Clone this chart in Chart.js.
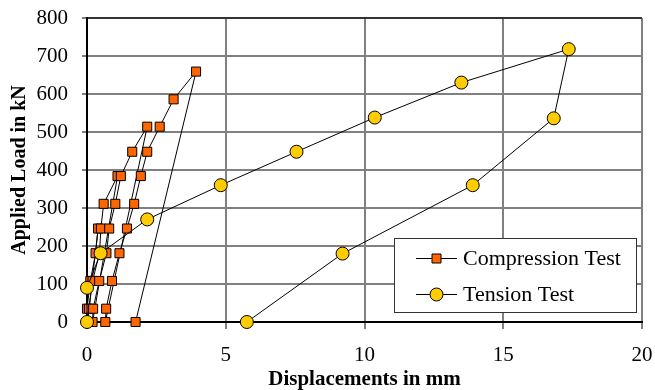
<!DOCTYPE html>
<html>
<head>
<meta charset="utf-8">
<title>Applied Load vs Displacement</title>
<script src="https://cdn.jsdelivr.net/npm/chart.js@4.4.1/dist/chart.umd.min.js"></script>
<style>
    html, body { margin: 0; padding: 0; background: #fff; }
    #loadChart { display: block; }
</style>
</head>
<body>
<canvas id="loadChart" width="655" height="390"></canvas>
<script>
// Compression test: four load cycles, each unloading straight to the residual displacement
const compressionDisp = [0, 0, 0.12, 0.31, 0.40,
    0.02, 0.07, 0.20, 0.45, 0.50, 0.60, 1.10,
    0.20, 0.22, 0.44, 0.70, 0.80, 1.02, 1.22, 1.63, 2.17,
    0.66, 0.69, 0.90, 1.17, 1.44, 1.70, 1.94, 2.17, 2.62, 3.12, 3.93, 1.75];
const compressionLoad = [0, 35, 108, 181, 246,
    0, 35, 108, 181, 246, 311, 384,
    0, 35, 108, 181, 246, 311, 384, 448, 514,
    0, 35, 108, 181, 246, 311, 384, 448, 514, 586, 659, 0];

// Tension test: loading then unloading
const tensionDisp = [0, 0, 0.49, 2.17, 4.82, 7.55, 10.37, 13.49, 17.36, 16.82, 13.9, 9.21, 5.76];
const tensionLoad = [0, 90, 181, 270, 360, 448, 538, 630, 718, 536, 360, 180, 0];

const seriesNames = ['Compression Test', 'Tension Test'];
const xTicks = [0, 5, 10, 15, 20];
const yTicks = [0, 100, 200, 300, 400, 500, 600, 700, 800];

const FONT = "'Liberation Serif', 'Times New Roman', serif";

function toPoints(xs, ys) {
    return xs.map((x, i) => ({ x: x, y: ys[i] }));
}

function drawMarker(ctx, style, x, y, fill) {
    ctx.save();
    ctx.fillStyle = fill;
    ctx.strokeStyle = '#000';
    ctx.lineWidth = 1;
    ctx.beginPath();
    if (style === 'rect') {
        ctx.rect(x - 4.5, y - 4.5, 9, 9);
    } else {
        ctx.arc(x, y, 6.5, 0, Math.PI * 2);
    }
    ctx.fill();
    ctx.stroke();
    ctx.restore();
}

// legend box sitting inside the plot, bottom right
const boxLegend = {
    id: 'boxLegend',
    afterDraw(chart) {
        const ctx = chart.ctx;
        const left = 394, top = 238, width = 242, height = 74;
        ctx.save();
        ctx.fillStyle = '#fff';
        ctx.fillRect(left, top, width, height);
        ctx.strokeStyle = '#333';
        ctx.lineWidth = 1;
        ctx.strokeRect(left + 0.5, top + 0.5, width, height);

        const rows = [
            { y: 258, style: 'rect', fill: '#FF6600' },
            { y: 294, style: 'circle', fill: '#FFCC00' }
        ];
        rows.forEach((row, i) => {
            ctx.strokeStyle = '#000';
            ctx.lineWidth = 1;
            ctx.beginPath();
            ctx.moveTo(416, row.y + 0.5);
            ctx.lineTo(457, row.y + 0.5);
            ctx.stroke();
            drawMarker(ctx, row.style, 436.5, row.y + 0.5, row.fill);
            ctx.fillStyle = '#000';
            ctx.font = '22px ' + FONT;
            ctx.textBaseline = 'middle';
            ctx.textAlign = 'left';
            ctx.fillText(seriesNames[i], 463, row.y + 1);
        });
        ctx.restore();
    }
};

const ctx = document.getElementById('loadChart').getContext('2d');
const loadChart = new Chart(ctx, {
    type: 'scatter',
    data: {
        datasets: [{
            label: seriesNames[0],
            data: toPoints(compressionDisp, compressionLoad),
            showLine: true,
            borderColor: '#000',
            borderWidth: 1,
            pointStyle: 'rect',
            pointRadius: 6.4,
            pointBackgroundColor: '#FF6600',
            pointBorderColor: '#000',
            pointBorderWidth: 1,
            tension: 0,
            clip: false,
            order: 2
        }, {
            label: seriesNames[1],
            data: toPoints(tensionDisp, tensionLoad),
            showLine: true,
            borderColor: '#000',
            borderWidth: 1,
            pointStyle: 'circle',
            pointRadius: 6.5,
            pointBackgroundColor: '#FFCC00',
            pointBorderColor: '#000',
            pointBorderWidth: 1,
            tension: 0,
            clip: false,
            order: 1
        }]
    },
    options: {
        responsive: false,
        animation: false,
        devicePixelRatio: 1,
        layout: {
            padding: { top: 18, right: 13, bottom: 0, left: 0 }
        },
        plugins: {
            legend: { display: false },
            tooltip: { enabled: false }
        },
        scales: {
            x: {
                type: 'linear',
                min: 0,
                max: 20,
                afterFit: scale => {
                    scale.height = 68;
                    scale.paddingLeft = 0;
                    scale.paddingRight = 0;
                },
                afterBuildTicks: scale => { scale.ticks = xTicks.map(v => ({ value: v })); },
                ticks: {
                    color: '#000',
                    padding: 14,
                    font: { family: FONT, size: 21 }
                },
                grid: {
                    color: '#808080',
                    lineWidth: 2,
                    tickLength: 7,
                    tickColor: '#000',
                    tickWidth: 1
                },
                border: { color: '#000', width: 2 },
                title: {
                    display: true,
                    text: 'Displacements in mm',
                    color: '#000',
                    font: { family: FONT, size: 21, weight: 'bold' },
                    padding: { top: 0, bottom: -2 }
                }
            },
            y: {
                type: 'linear',
                min: 0,
                max: 800,
                afterFit: scale => {
                    scale.width = 87;
                    scale.paddingTop = 0;
                    scale.paddingBottom = 0;
                },
                afterBuildTicks: scale => { scale.ticks = yTicks.map(v => ({ value: v })); },
                ticks: {
                    color: '#000',
                    padding: 14,
                    font: { family: FONT, size: 21 }
                },
                grid: {
                    color: c => (c.tick && c.tick.value === 800 ? '#333' : '#808080'),
                    lineWidth: 2,
                    tickLength: 5,
                    tickColor: '#000',
                    tickWidth: 1
                },
                border: { color: '#000', width: 2 },
                title: {
                    display: true,
                    text: 'Applied Load in kN',
                    color: '#000',
                    font: { family: FONT, size: 20, weight: 'bold' },
                    padding: { top: 8, bottom: 0 }
                }
            }
        }
    },
    plugins: [boxLegend]
});
</script>
</body>
</html>
